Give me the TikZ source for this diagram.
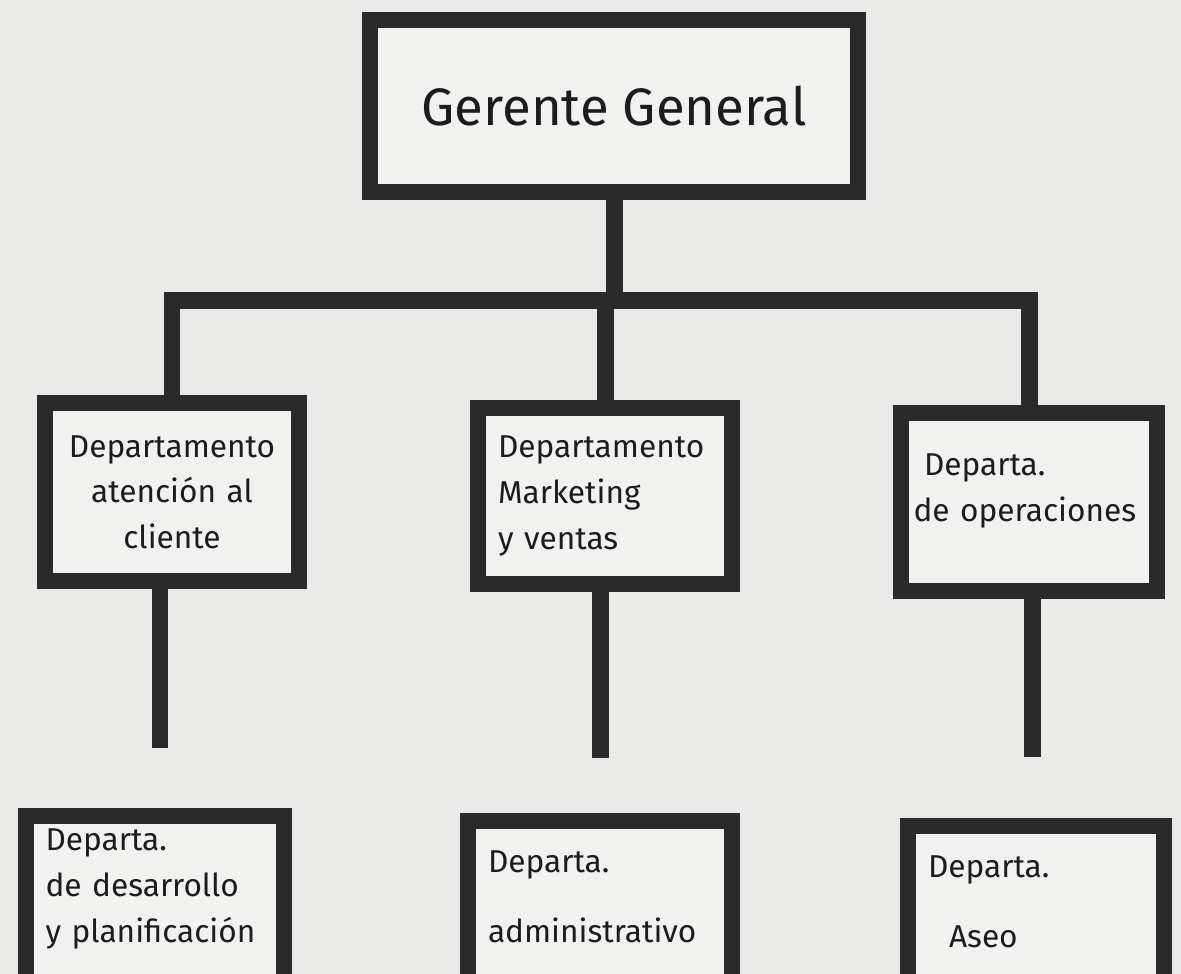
\documentclass[tikz,border=0pt]{standalone}
\usepackage{fontspec}
\setmainfont{Fira Sans}
\usepackage{xcolor}
\definecolor{paper}{RGB}{234,234,233}
\definecolor{boxfill}{RGB}{241,241,240}
\definecolor{ink}{RGB}{42,42,42}
\definecolor{pen}{RGB}{28,28,28}

\tikzset{
  orgbox/.style={draw=ink,line width=0.32cm,fill=boxfill,inner xsep=0.4cm,inner ysep=0.15cm,align=left,text=pen,font=\fontsize{18}{26}\selectfont},
  link/.style={draw=ink,line width=0.34cm}
}

\begin{document}
\begin{tikzpicture}[x=0.02cm,y=-0.02cm]
            \useasboundingbox (0,0) rectangle (1181,974);
            \clip (0,0) rectangle (1181,974);
            \fill[paper] (0,0) rectangle (1181,974);

            % top level
            \node (gerente) at (614,106) [orgbox,align=center,minimum width=9.76cm,minimum height=3.44cm,font=\fontsize{30}{36}\selectfont] {Gerente General};

            % second level
            \node (atencion) at (172,492) [orgbox,align=center,text width=4.28cm,minimum height=3.58cm] {Departamento\\atención al\\cliente};
            \node (marketing) at (605,496) [orgbox,text width=4.28cm,minimum height=3.52cm] {Departamento\\Marketing\\y ventas};
            \node (operaciones) at (1029,502) [orgbox,inner xsep=0.25cm,text width=4.62cm,minimum height=3.58cm,text depth=1.5cm] {\ Departa.\\\mbox{de operaciones}};

            % third level
            \node (desarrollo) at (155,808) [orgbox,anchor=north,text width=4.38cm,text depth=3cm] {\rule{0pt}{0.55cm}Departa.\\de desarrollo\\y planificación};
            \node (administrativo) at (600,813) [orgbox,anchor=north,text width=4.48cm,text depth=3cm] {\rule{0pt}{0.88cm}Departa.\\[0.48cm]administrativo};
            \node (aseo) at (1036,818) [orgbox,anchor=north,text width=4.32cm,text depth=3cm] {\rule{0pt}{0.88cm}Departa.\\[0.48cm]\ \ Aseo};

            \coordinate (bar) at (605,300);
            \coordinate (stub1) at (160,748);
            \coordinate (stub2) at (600,758);
            \coordinate (stub3) at (1032,757);

            \draw[link] (gerente.south) -- (gerente.south |- bar);
            \draw[link] (atencion.north) -- (atencion.north |- bar) -- (operaciones.north |- bar) -- (operaciones.north);
            \draw[link] (marketing.north) -- (marketing.north |- bar);

            \draw[link] (atencion.south -| stub1) -- (stub1);
            \draw[link] (marketing.south -| stub2) -- (stub2);
            \draw[link] (operaciones.south -| stub3) -- (stub3);

        \end{tikzpicture}
\end{document}
